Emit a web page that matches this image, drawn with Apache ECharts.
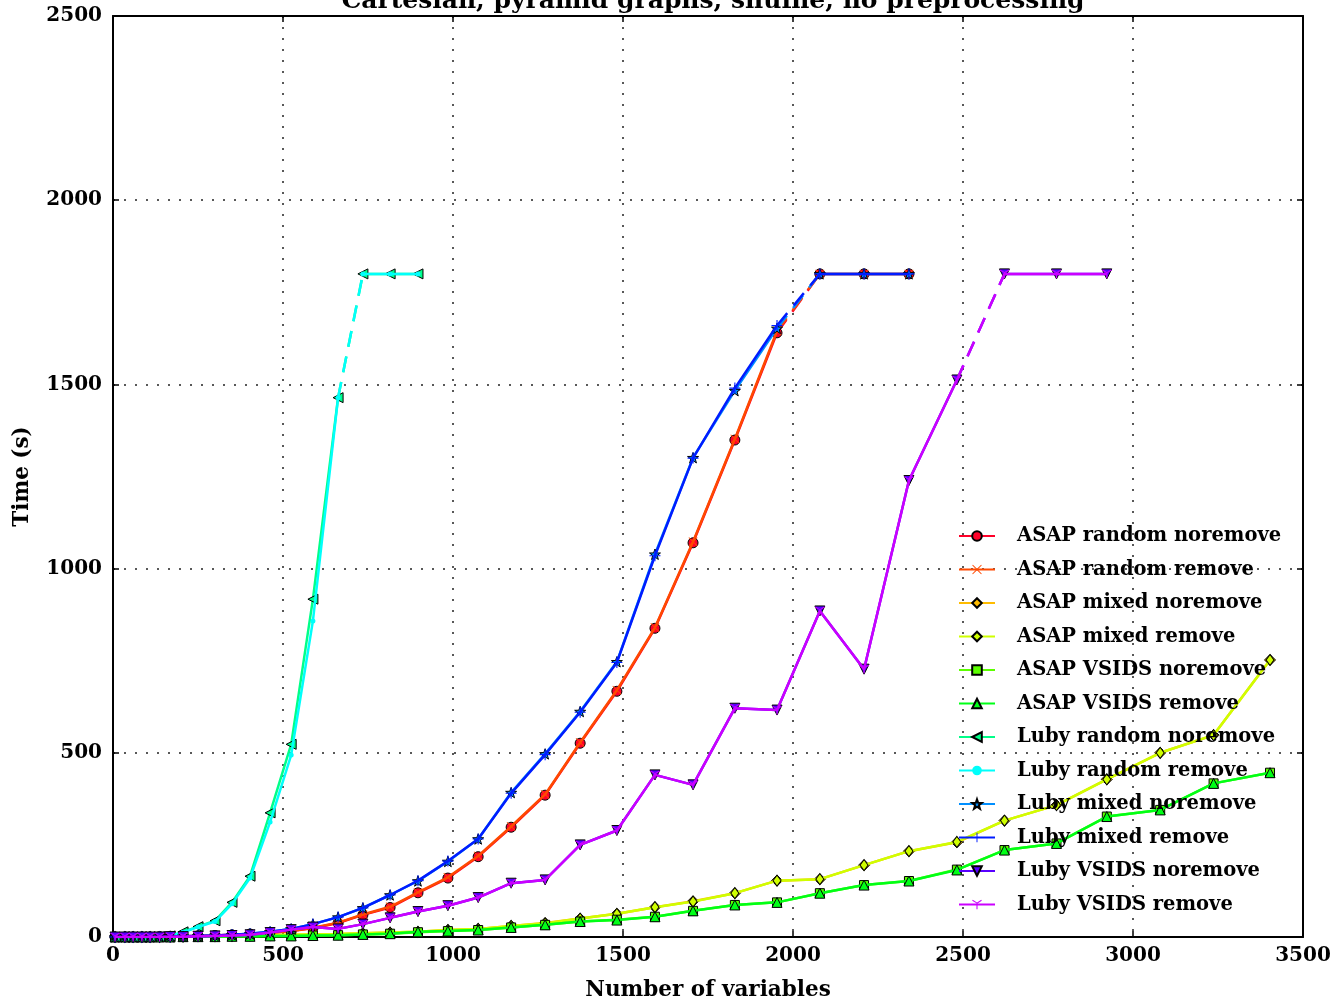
<!DOCTYPE html>
<html><head><meta charset="utf-8">
<script src="https://cdn.jsdelivr.net/npm/echarts@6/dist/echarts.min.js"></script>
<style>html,body{margin:0;padding:0;background:#fff}#c{width:1333px;height:1002px}</style>
</head><body><div id="c"></div>
<script>
// ---- data ----
const nVars = [6,35,59,85,109,137,168,206,250,300,350,403,462,524,588,662,735,815,897,985,1074,1171,1271,1374,1482,1594,1706,1829,1953,2079,2209,2341,2482,2622,2775,2923,3080,3237,3403];
const TIMEOUT = 1800;
const asapRandomNoremove = [0,0,0,0,0,1,1,2,3,4,6,8,11,16,24,38,60,80,120,160,218,298,385,526,667,838,1070,1349,1640,1800,1800,1800];
const asapRandomRemove   = [0,0,0,0,0,1,1,2,3,4,6,8,11,16,25,39,61,82,121,162,220,300,387,528,670,840,1073,1352,1645,1800,1800,1800];
const asapMixedNoremove  = [0,0,0,0,0,0,1,1,2,2,3,4,5,6,7,8,10,12,14,19,22,30,38,50,63,81,97,119,153,157,195,233,257,316,358,428,500,548,752];
const asapMixedRemove    = [0,0,0,0,0,0,1,1,2,2,3,4,5,6,7,8,10,12,14,19,22,30,37,50,63,81,96,119,153,157,195,233,258,316,358,428,500,548,752];
const asapVsidsNoremove  = [0,0,0,0,0,0,0,1,1,1,2,2,3,3,4,5,7,9,13,16,19,26,33,42,47,55,71,87,94,119,141,152,183,236,254,327,345,417,446];
const asapVsidsRemove    = [0,0,0,0,0,0,0,1,1,1,2,2,3,3,4,5,7,9,14,16,19,26,33,42,46,55,71,87,94,119,141,152,182,236,254,327,345,417,446];
const lubyRandomNoremove = [0,0,0,0,1,1,3,14,28,44,94,165,337,523,917,1464,1800,1800,1800];
const lubyRandomRemove   = [0,0,0,0,1,1,3,13,27,42,90,160,312,494,858,1464,1800,1800,1800];
const lubyMixedNoremove  = [0,0,0,0,0,1,1,2,3,4,6,9,14,22,35,54,79,114,152,205,266,392,497,612,747,1039,1301,1483,1652,1800,1800,1800];
const lubyMixedRemove    = [0,0,0,0,0,1,1,2,3,4,6,9,14,22,35,54,79,114,153,206,266,390,495,610,745,1035,1300,1490,1660,1800,1800,1800];
const lubyVsidsNoremove  = [0,0,0,0,0,0,1,1,2,3,4,6,12,20,27,22,35,52,69,85,107,146,155,250,289,440,413,621,616,885,727,1239,1512,1800,1800,1800];
const lubyVsidsRemove    = [0,0,0,0,0,0,1,1,2,3,4,6,12,20,27,22,35,52,69,85,107,146,155,250,289,440,413,621,616,885,727,1239,1512,1800,1800,1800];
const seriesNames = ['ASAP random noremove','ASAP random remove','ASAP mixed noremove','ASAP mixed remove','ASAP VSIDS noremove','ASAP VSIDS remove','Luby random noremove','Luby random remove','Luby mixed noremove','Luby mixed remove','Luby VSIDS noremove','Luby VSIDS remove'];
const seriesValues = [asapRandomNoremove,asapRandomRemove,asapMixedNoremove,asapMixedRemove,asapVsidsNoremove,asapVsidsRemove,lubyRandomNoremove,lubyRandomRemove,lubyMixedNoremove,lubyMixedRemove,lubyVsidsNoremove,lubyVsidsRemove];
const xTicks = [0,500,1000,1500,2000,2500,3000,3500];
const yTicks = [0,500,1000,1500,2000,2500];

// ---- styles ----
const colors = ['#ff0029','#ff4900','#ffbc00','#cfff00','#5cff00','#00ff17','#00ff89','#00fffb','#008fff','#001cff','#5800ff','#cb00ff'];
const STAR = 'path://M0,-10 L2.35,-3.24 L9.51,-3.09 L3.8,1.24 L5.88,8.09 L0,4 L-5.88,8.09 L-3.8,1.24 L-9.51,-3.09 L-2.35,-3.24Z';
const XMARK = 'path://M-10,-8.6 L-8.6,-10 L0,-1.4 L8.6,-10 L10,-8.6 L1.4,0 L10,8.6 L8.6,10 L0,1.4 L-8.6,10 L-10,8.6 L-1.4,0Z';
const PLUS = 'path://M-1,-10 L1,-10 L1,-1 L10,-1 L10,1 L1,1 L1,10 L-1,10 L-1,1 L-10,1 L-10,-1 L-1,-1Z';
const TRIDOWN = 'path://M-1,0 L-1,10 L1,10 L1,0.5 L9,-4.2 L8,-5.9 L0,-1.2 L-8,-5.9 L-9,-4.2Z';
const markers = [
  {symbol:'circle', size:10, border:1},
  {symbol:XMARK, size:9, border:0},
  {symbol:'diamond', size:[11,11], border:1},
  {symbol:'diamond', size:[8,11], border:1},
  {symbol:'rect', size:9, border:1},
  {symbol:'triangle', size:10, border:1},
  {symbol:'triangle', size:10, border:1, rotate:90},
  {symbol:'circle', size:5, border:0},
  {symbol:STAR, size:11, border:1},
  {symbol:PLUS, size:11, border:0},
  {symbol:'triangle', size:10, border:1, rotate:180},
  {symbol:TRIDOWN, size:10, border:0}
];
const FONT = 'DejaVu Serif';

const series = [];
seriesValues.forEach((vals, k) => {
  const fin = [], to = [];
  vals.forEach((v, i) => { (v >= TIMEOUT ? to : fin).push([nVars[i], v]); });
  const m = markers[k];
  const common = {
    type:'line', name: seriesNames[k], color: colors[k],
    symbol: m.symbol, symbolSize: m.size, symbolRotate: m.rotate || 0, symbolKeepAspect: true,
    showSymbol: true, showAllSymbol: true,
    itemStyle: {color: colors[k], borderColor: '#000', borderWidth: m.border},
    lineStyle: {color: colors[k], width: 2.5},
    emphasis: {disabled: true}, animation: false, z: 2 + k * 0.01
  };
  series.push(Object.assign({}, common, {data: fin}));
  if (to.length) {
    series.push(Object.assign({}, common, {data: [fin[fin.length-1], to[0]], symbol: 'none',
      lineStyle: {color: colors[k], width: 2.5, type: [16, 10]}}));
    series.push(Object.assign({}, common, {data: to}));
  }
});

const axisText = {fontFamily: FONT, fontWeight: 'bold', fontSize: 20, color: '#000'};
const frameLine = {show: true, onZero: false, lineStyle: {color: '#000', width: 2}};
const tickIn = {show: true, inside: true, length: 6, lineStyle: {color: '#000', width: 1.5}};
const chart = echarts.init(document.getElementById('c'), null, {renderer: 'canvas'});
chart.setOption({
  backgroundColor: '#fff',
  animation: false,
  title: {text: 'Cartesian, pyramid graphs, shuffle, no preprocessing', left: 708, textAlign: 'center', top: -16,
    textStyle: {fontFamily: FONT, fontWeight: 'bold', fontSize: 25, color: '#000'}},
  grid: {left: 113, top: 16, width: 1190, height: 921, containLabel: false, outerBoundsMode: 'none'},
  legend: {
    data: seriesNames, orient: 'vertical', left: 953, top: 521,
    itemWidth: 36, itemHeight: 12, itemGap: 13.5,
    textStyle: {fontFamily: FONT, fontWeight: 'bold', fontSize: 19.5, color: '#000', lineHeight: 20, padding: [0,0,0,17]},
    selectedMode: false
  },
  xAxis: [
    {type: 'value', min: 0, max: 3500, interval: 500, position: 'bottom',
     name: 'Number of variables', nameLocation: 'middle', nameGap: 42,
     nameTextStyle: {fontFamily: FONT, fontWeight: 'bold', fontSize: 21.5, color: '#000'},
     axisLine: frameLine, axisTick: tickIn,
     axisLabel: Object.assign({margin: 9, formatter: v => xTicks.includes(v) ? String(v) : ''}, axisText),
     splitLine: {show: true, lineStyle: {color: '#222', width: 1.5, type: [2, 9]}}},
    {type: 'value', min: 0, max: 3500, interval: 500, position: 'top',
     axisLine: frameLine, axisTick: tickIn,
     axisLabel: {show: false}, splitLine: {show: false}}
  ],
  yAxis: [
    {type: 'value', min: 0, max: 2500, interval: 500, position: 'left',
     name: 'Time (s)', nameLocation: 'middle', nameGap: 80, nameRotate: 90,
     nameTextStyle: {fontFamily: FONT, fontWeight: 'bold', fontSize: 21.5, color: '#000'},
     axisLine: frameLine, axisTick: tickIn,
     axisLabel: Object.assign({margin: 11, formatter: v => yTicks.includes(v) ? String(v) : ''}, axisText),
     splitLine: {show: true, lineStyle: {color: '#222', width: 1.5, type: [2, 9]}}},
    {type: 'value', min: 0, max: 2500, interval: 500, position: 'right',
     axisLine: frameLine, axisTick: tickIn,
     axisLabel: {show: false}, splitLine: {show: false}}
  ],
  series: series
});
</script></body></html>
